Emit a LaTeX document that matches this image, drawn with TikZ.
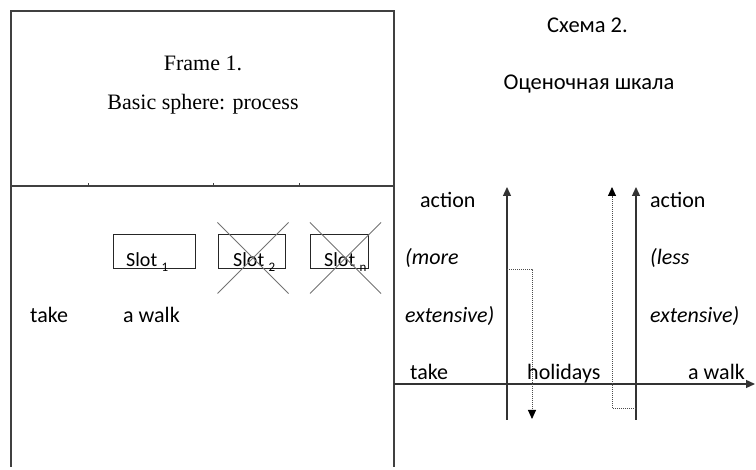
\documentclass[tikz,border=0pt]{standalone}
\usepackage{fontspec}
\setmainfont{Liberation Serif}
\newfontfamily\carl{Carlito}
\usetikzlibrary{arrows.meta,shapes.misc}

\tikzset{
  frameline/.style={draw=black!75, line width=1.2pt},
  serif/.style={inner sep=0pt, font=\fontsize{22}{24}\selectfont},
  txt/.style={inner sep=0pt, font=\carl\fontsize{22}{24}\selectfont},
  ruslabel/.style={inner sep=0pt, font=\carl\fontsize{22.5}{24}\selectfont},
  itxt/.style={inner sep=0pt, font=\carl\itshape\fontsize{22}{24}\selectfont},
  slotbox/.style={draw=black!85, line width=1pt, inner sep=0pt, minimum height=34pt},
  slottext/.style={inner sep=0pt, font=\carl\fontsize{20}{22}\selectfont},
  crossed/.style={cross out, draw=black!55, line width=1pt, inner sep=0pt, minimum size=70pt},
  axis/.style={draw=black!80, line width=1.3pt, -{Triangle[length=9pt,width=8pt]}},
  dotline/.style={draw=black!70, line width=0.9pt, dash pattern=on 1pt off 1pt},
  dotarrow/.style={dotline, -{Triangle[length=9pt,width=8pt,color=black]}},
}
\newcommand{\sub}[1]{\raisebox{-5pt}{\fontsize{13}{13}\selectfont #1}}

\begin{document}
\begin{tikzpicture}[x=1pt,y=-1pt]
\useasboundingbox (0,0) rectangle (756,470);

% frame outline
\coordinate (tl) at (11,11);
\coordinate (tr) at (394,11);
\coordinate (bl) at (11,467);
\coordinate (br) at (394,467);
\coordinate (ml) at (11,186);
\coordinate (mr) at (394,186);
\draw[frameline] (bl) -- (tl) -- (tr) -- (br);
\draw[frameline] (ml) -- (mr);
\foreach \x in {88,213,299} \draw[black!75, line width=0.8pt] (\x,186) -- (\x,183);

% frame heading
\node[serif, anchor=base] (fr1) at (203,71) {Frame 1.};
\node[serif, anchor=base] (fr2) at (203,110) {Basic sphere: process};

% slots
\node[slotbox, minimum width=82pt] (s1) at (154,252) {};
\node[slotbox, minimum width=67pt] (s2) at (251.5,252) {};
\node[slotbox, minimum width=58pt] (sn) at (339,252) {};
\node[slottext, anchor=base west] (t1) at (126,267) {Slot \sub{1}};
\node[slottext, anchor=base west] (t2) at (233,267) {Slot \sub{2}};
\node[slottext, anchor=base west] (tn) at (324,267) {Slot \sub{n}};
\node[crossed] (x2) at (253,258) {};
\node[crossed] (xn) at (345.5,258) {};

\node[txt, anchor=base west] (ltake) at (30,323) {take};
\node[txt, anchor=base west] (lwalk) at (123,323) {a walk};

% scale heading
\node[ruslabel, anchor=base] (sch) at (587.5,33) {Схема 2.};
\node[ruslabel, anchor=base] (scl) at (589,90) {Оценочная шкала};

% scale axes
\coordinate (h0) at (394,384);
\coordinate (h1) at (755,384);
\draw[axis] (h0) -- (h1);
\coordinate (a1b) at (507,420);
\coordinate (a1t) at (507,187);
\coordinate (a2b) at (636,420);
\coordinate (a2t) at (636,187);
\draw[axis] (a1b) -- (a1t);
\draw[axis] (a2b) -- (a2t);

% dotted paths
\coordinate (d1s) at (507,269);
\coordinate (d1c) at (532,269);
\coordinate (d1e) at (532,419);
\draw[dotarrow] (d1s) -- (d1c) -- (d1e);
\coordinate (d2s) at (636,408);
\coordinate (d2c) at (612,408);
\coordinate (d2e) at (612,187);
\draw[dotarrow] (d2s) -- (d2c) -- (d2e);

% scale labels
\node[txt, anchor=base west] (act1) at (420,208) {action};
\node[itxt, anchor=base west] (more) at (405,265) {(more};
\node[itxt, anchor=base west] (ext1) at (405,323) {extensive)};
\node[txt, anchor=base west] (act2) at (650,208) {action};
\node[itxt, anchor=base west] (less) at (650,265) {(less};
\node[itxt, anchor=base west] (ext2) at (650,323) {extensive)};
\node[txt, anchor=base west] (rtake) at (410,380) {take};
\node[txt, anchor=base west] (rhol) at (527,380) {holidays};
\node[txt, anchor=base east] (rwalk) at (745,380) {a walk};
\end{tikzpicture}
\end{document}
